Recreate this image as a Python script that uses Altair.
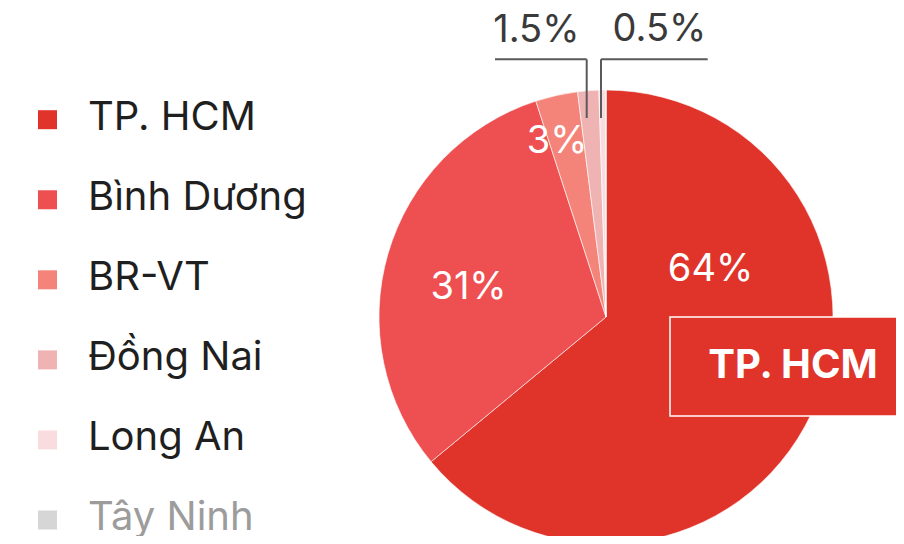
import altair as alt
import pandas as pd

regions = ["TP. HCM", "Bình Dương", "BR-VT", "Đồng Nai", "Long An", "Tây Ninh"]
shares = [64, 31, 3, 1.5, 0.5, 0]
colors = ["#E0342B", "#EE4F51", "#F4847A", "#F0B3B3", "#F9DDDE", "#D6D6D6"]

df = pd.DataFrame({"region": regions, "share": shares, "idx": list(range(len(regions)))})

FONT = "Inter"
CX, CY = 598, 309  # pie centre inside the plot area

color_scale = alt.Scale(domain=regions, range=colors)

pie_base = alt.Chart(df).transform_calculate(
    label="datum.share + '%'"
).encode(
    theta=alt.Theta("share:Q", stack=True),
    order=alt.Order("idx:Q", sort="ascending"),
    x=alt.value(CX),
    y=alt.value(CY),
)

pie = pie_base.mark_arc(outerRadius=227, clip=True, stroke="white", strokeWidth=0.6).encode(
    color=alt.Color("region:N", scale=color_scale, legend=None)
)


def pct_label(region, radius, dx, dy, color):
    return pie_base.transform_calculate(
        t=f"datum.region == '{region}' ? datum.label : ''"
    ).mark_text(
        radius=radius, dx=dx, dy=dy, fontSize=38, font=FONT, color=color,
        align="center", baseline="middle"
    ).encode(text="t:N")


labels = [
    pct_label("TP. HCM", 110, 5, -94, "white"),
    pct_label("Bình Dương", 140, -3, 10, "white"),
    pct_label("BR-VT", 178, -10, -1, "white"),
    pct_label("Đồng Nai", 289, -47, 2, "#3a3a3a"),
    pct_label("Long An", 289, 58, 2, "#3a3a3a"),
]

one = alt.Data(values=[{}])


def seg(x1, y1, x2, y2):
    return alt.Chart(one).mark_rule(color="#5a5a5a", strokeWidth=2).encode(
        x=alt.value(x1), y=alt.value(y1), x2=alt.value(x2), y2=alt.value(y2)
    )


leaders = [
    seg(487, 51.3, 578.7, 51.3),
    seg(578.7, 51.3, 578.7, 110),
    seg(593, 51.3, 593, 110),
    seg(593, 51.3, 699.7, 51.3),
]

box = alt.Chart(one).mark_rect(color="#E0342B", stroke="white", strokeWidth=1.5).encode(
    x=alt.value(662), x2=alt.value(900), y=alt.value(309), y2=alt.value(408)
)
box_text = alt.Chart(one).mark_text(
    text="TP. HCM", fontSize=40, fontWeight="bold", font=FONT, color="white",
    align="center", baseline="middle"
).encode(x=alt.value(785), y=alt.value(358))

leg_y = alt.Y("region:N", sort=regions,
              scale=alt.Scale(domain=regions, range=[111.7, 512], type="point", padding=0),
              axis=None)

leg_sq = alt.Chart(df).mark_square(size=361, opacity=1).encode(
    x=alt.value(39.5), y=leg_y,
    color=alt.Color("region:N", scale=color_scale, legend=None),
)
leg_txt = alt.Chart(df).mark_text(
    align="left", baseline="middle", fontSize=40, font=FONT, dy=-2
).encode(
    x=alt.value(80), y=leg_y, text="region:N",
    color=alt.condition(alt.datum.region == "Tây Ninh", alt.value("#9c9c9c"), alt.value("#1f1f1f")),
)

chart = alt.layer(pie, *labels, *leaders, box, box_text, leg_sq, leg_txt).properties(
    width=888, height=528, padding=0, autosize=alt.AutoSizeParams(type="none")
).configure_view(stroke=None)

chart.save("out.html", embed_options={"renderer": "svg", "actions": False})
